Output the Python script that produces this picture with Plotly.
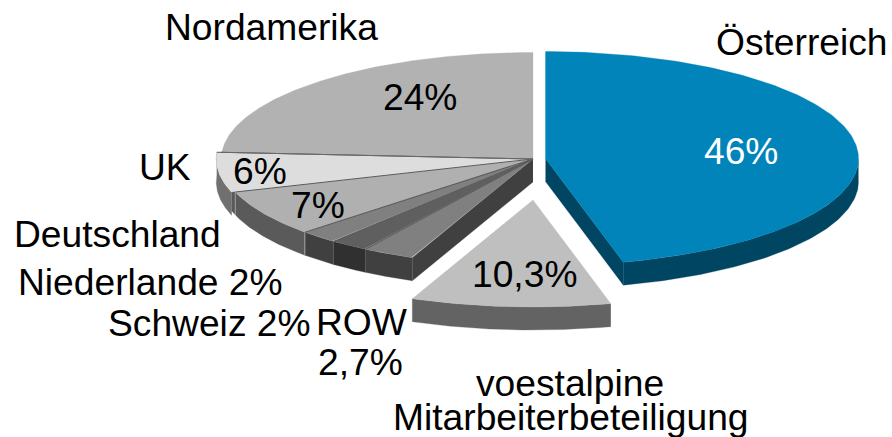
import numpy as np
import plotly.graph_objects as go

# --- data, clockwise from 12 o'clock
categories = ["Österreich", "voestalpine Mitarbeiterbeteiligung", "ROW", "Schweiz",
              "Niederlande", "Deutschland", "UK", "Nordamerika"]
shares = [46, 10.3, 2.7, 2, 2, 7, 6, 24]
value_labels = ["46%", "10,3%", "", "", "", "7%", "6%", "24%"]

# --- styles
top_colors = ["#0084B9", "#BFBFBF", "#808080", "#5F5F5F", "#808080", "#B0B0B0", "#DDDDDD", "#B2B2B2"]
side_colors = ["#004663", "#636363", "#404040", "#303030", "#404040", "#5A5A5A", "#707070", "#5A5A5A"]
WIDTH, HEIGHT = 892, 437
CX, CY, RX, RY, DEPTH = 533.0, 159.0, 313.0, 107.0, 23.0
offsets = [(12.5, -0.5), (0, 41), (0, 0), (0, 0), (0, 0), (0, 0), (0, 0), (0, 0)]
radial = [1, 1, 1, 1, 1, 1, 1.012, 0.996]
wall_overlap = [0, 0, 0, 0, 0, 0.04, 0, 0]   # radians a wall runs on under its neighbour
visible_cut = {0: 1, 2: 0}   # slice index -> which boundary (0 start, 1 end) shows a cut face
FONT = "Liberation Sans, Arial, sans-serif"
FS = 37.2
TXT = "#000000"

edges = np.concatenate([[0], np.cumsum(shares)]) / sum(shares) * 2 * np.pi


def rim(i, a):
    dx, dy = offsets[i]
    k = radial[i]
    return CX + dx + k * RX * np.sin(a), CY + dy - k * RY * np.cos(a)


def poly(xs, ys, color):
    return go.Scatter(x=list(xs), y=list(ys), mode="lines", fill="toself", fillcolor=color,
                      line=dict(color=color, width=0.3), hoverinfo="skip", showlegend=False)


def seg(xs, ys, color, width=1.1):
    return go.Scatter(x=list(xs), y=list(ys), mode="lines", line=dict(color=color, width=width),
                      hoverinfo="skip", showlegend=False)


fig = go.Figure()

# walls first
for i in range(len(shares)):
    a0, a1 = edges[i], edges[i + 1]
    lo, hi = max(a0, np.pi / 2), min(a1 + wall_overlap[i], 3 * np.pi / 2 + 0.07)
    dx, dy = offsets[i]
    if i in visible_cut:
        a = a1 if visible_cut[i] else a0
        rx_, ry_ = rim(i, a)
        ax, ay = CX + dx, CY + dy
        fig.add_trace(poly([ax, rx_, rx_, ax], [ay, ry_, ry_ + DEPTH, ay + DEPTH], side_colors[i]))
    if hi > lo:
        t = np.linspace(lo, hi, 80)
        x, y = rim(i, t)
        fig.add_trace(poly(np.r_[x, x[::-1]], np.r_[y, (y + DEPTH)[::-1]], side_colors[i]))

# light seams on the walls either side of Deutschland
for i in (5, 6):
    x, y = rim(5, edges[i])
    fig.add_trace(seg([float(x), float(x)], [float(y), float(y) + DEPTH], "#A0A0A0", 1))

# slice tops
for i in range(len(shares)):
    t = np.linspace(edges[i], edges[i + 1], 160)
    x, y = rim(i, t)
    dx, dy = offsets[i]
    ax, ay = CX + dx, CY + dy
    fig.add_trace(poly(np.r_[ax, x, ax], np.r_[ay, y, ay], top_colors[i]))

# separators between the grey slices
for i in range(2, len(shares) - 1):
    x, y = rim(i, edges[i + 1])
    fig.add_trace(seg([CX, float(x)], [CY, float(y)], "#5A5A5A"))
x, y = rim(7, edges[7])
fig.add_trace(seg([CX, float(x)], [CY, float(y)], "#6A6A6A"))

# labels
value_pos = {0: (741, 151), 1: (524, 274), 5: (318, 205), 6: (260, 171), 7: (420, 97)}
for i, p in value_pos.items():
    fig.add_annotation(x=p[0], y=p[1], text=value_labels[i], showarrow=False,
                       font=dict(family=FONT, size=FS, color="#FFFFFF" if i == 0 else TXT))

outer_labels = [
    ("Nordamerika", 271, 27), ("Österreich", 802, 42), ("UK", 165, 167), ("Deutschland", 117, 234),
    ("Niederlande 2%", 150, 282), ("Schweiz 2%", 209, 323), ("ROW", 361, 322), ("2,7%", 360, 362),
    ("voestalpine", 570, 383), ("Mitarbeiterbeteiligung", 571, 417),
]
for s, px, py in outer_labels:
    fig.add_annotation(x=px, y=py, text=s, showarrow=False, font=dict(family=FONT, size=FS, color=TXT))

fig.update_layout(
    width=WIDTH, height=HEIGHT, margin=dict(l=0, r=0, t=0, b=0),
    paper_bgcolor="#FFFFFF", plot_bgcolor="#FFFFFF", showlegend=False,
    xaxis=dict(range=[0, WIDTH], visible=False, fixedrange=True),
    yaxis=dict(range=[HEIGHT, 0], visible=False, fixedrange=True),
)
fig.write_html("out.html", config={"displayModeBar": False},
               post_script="document.body.style.margin='0';document.documentElement.style.overflow='hidden';")
